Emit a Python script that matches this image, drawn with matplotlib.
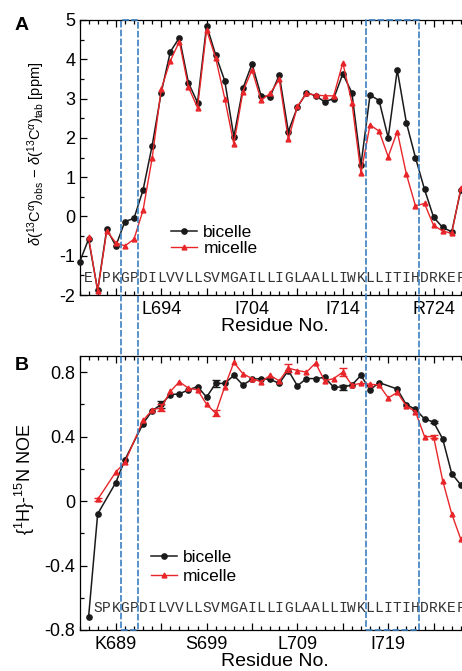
import numpy as np
import matplotlib
matplotlib.use("Agg")
import matplotlib.pyplot as plt
from matplotlib.patches import Rectangle
from matplotlib.ticker import MultipleLocator
import matplotlib.transforms as mtransforms

plt.rcParams["font.family"] = ["Liberation Sans", "DejaVu Sans"]
plt.rcParams["mathtext.fontset"] = "custom"
plt.rcParams["mathtext.rm"] = "Liberation Sans"
plt.rcParams["mathtext.it"] = "Liberation Sans:italic"
plt.rcParams["axes.unicode_minus"] = False

# ---- panel A: secondary C-alpha shifts ----
res_a_bic = np.arange(685, 728)
shift_bic = [-1.17, -0.58, -1.88, -0.32, -0.75, -0.13, -0.05, 0.67, 1.80, 3.15,
             4.19, 4.55, 3.40, 2.90, 4.86, 4.11, 3.45, 2.03, 3.26, 3.88,
             3.07, 3.05, 3.60, 2.16, 2.78, 3.15, 3.07, 2.92, 3.00, 3.63,
             3.15, 1.31, 3.09, 2.95, 2.00, 3.73, 2.39, 1.50, 0.69, -0.02,
             -0.28, -0.39, 0.68]
res_a_mic = np.arange(686, 728)
shift_mic = [-0.53, -1.90, -0.37, -0.67, -0.75, -0.58, 0.16, 1.48, 3.24,
             3.96, 4.45, 3.29, 2.77, 4.75, 4.03, 3.00, 1.84, 3.18, 3.73,
             2.96, 3.13, 3.49, 1.96, 2.80, 3.13, 3.09, 3.07, 3.07, 3.91,
             2.90, 1.10, 2.33, 2.17, 1.52, 2.16, 1.08, 0.27, 0.33, -0.23,
             -0.37, -0.43, 0.72]

# ---- panel B: heteronuclear NOE (prolines 688, 691 absent) ----
res_b_bic = [686, 687, 689, 690, 692, 693, 694, 695, 696, 697, 698, 699, 700,
             701, 702, 703, 704, 705, 706, 707, 708, 709, 710, 711, 712, 713,
             714, 715, 716, 717, 718, 720, 721, 722, 723, 724, 725, 726, 727]
noe_bic = [-0.72, -0.08, 0.115, 0.256, 0.48, 0.56, 0.60, 0.66, 0.665, 0.69,
           0.71, 0.645, 0.73, 0.73, 0.78, 0.72, 0.756, 0.76, 0.755, 0.73,
           0.81, 0.715, 0.76, 0.76, 0.767, 0.707, 0.707, 0.72, 0.78, 0.69,
           0.735, 0.695, 0.597, 0.57, 0.51, 0.49, 0.386, 0.17, 0.10]
res_b_mic = [687, 689, 690, 692, 693, 694, 695, 696, 697, 698, 699, 700, 701,
             702, 703, 704, 705, 706, 707, 708, 709, 710, 711, 712, 713, 714,
             715, 716, 717, 718, 719, 720, 721, 722, 723, 724, 725, 726, 727]
noe_mic = [0.01, 0.18, 0.24, 0.50, 0.565, 0.58, 0.68, 0.74, 0.70, 0.69, 0.60,
           0.545, 0.71, 0.86, 0.79, 0.76, 0.74, 0.78, 0.745, 0.825, 0.81,
           0.80, 0.856, 0.746, 0.76, 0.80, 0.72, 0.73, 0.725, 0.72, 0.64,
           0.674, 0.59, 0.555, 0.40, 0.40, 0.127, -0.08, -0.237]
err_res_bic = [694, 700, 714, 724]
err_bic = [0.02, 0.022, 0.015, 0.008]
err_res_mic = [687, 694, 700, 708, 714, 724]
err_mic = [0.01, 0.02, 0.019, 0.025, 0.023, 0.01]

seq_a = "E PKGPDILVVLLSVMGAILLIGLAALLIWKLLITIHDRKEF"   # starts at 686
seq_b = "SPKGPDILVVLLSVMGAILLIGLAALLIWKLLITIHDRKEF"    # starts at 687
ticks_a = [694, 704, 714, 724]
labels_a = ["L694", "I704", "I714", "R724"]
ticks_b = [689, 699, 709, 719]
labels_b = ["K689", "S699", "L709", "I719"]
boxes = [(689.55, 691.4), (716.6, 722.4)]

BLACK = "#1a1a1a"
RED = "#e8262a"
BLUE = "#3b7fc0"

W, H = 462, 671
fig = plt.figure(figsize=(W / 100, H / 100), dpi=100)
axA = fig.add_axes([79.5 / W, 1 - 295 / H, 390.4 / W, 275 / H])
axB = fig.add_axes([79.5 / W, 1 - 630 / H, 390.4 / W, 274 / H])

major5 = list(range(689, 729, 5))


def style(ax, ticks, labels):
    ax.set_xlim(685, 728)
    ax.set_xticks(major5)
    ax.set_xticklabels([labels[ticks.index(t)] if t in ticks else "" for t in major5])
    ax.xaxis.set_minor_locator(MultipleLocator(1))
    ax.tick_params(which="both", direction="in", top=True, right=False,
                   labelsize=13, width=0.9)
    ax.tick_params(which="major", length=5)
    ax.tick_params(which="minor", length=3)
    ax.tick_params(axis="x", pad=4)
    ax.tick_params(axis="y", pad=3)
    for s in ax.spines.values():
        s.set_linewidth(0.9)
    ax.spines["right"].set_visible(False)


# panel A
axA.plot(res_a_bic, shift_bic, "-o", color=BLACK, lw=1.1, ms=3.8,
         label="bicelle", clip_on=False, zorder=3)
axA.plot(res_a_mic, shift_mic, "-^", color=RED, lw=1.0, ms=3.5,
         label="micelle", clip_on=False, zorder=4)
style(axA, ticks_a, labels_a)
axA.set_ylim(-2, 5)
axA.yaxis.set_major_locator(MultipleLocator(1))
axA.yaxis.set_minor_locator(MultipleLocator(0.5))
axA.set_ylabel(r"$\delta(^{13}\mathrm{C}^{\alpha})_{\mathrm{obs}}\,-\,\delta(^{13}\mathrm{C}^{\alpha})_{\mathrm{tab}}$ [ppm]",
               fontsize=10.5)
axA.yaxis.set_label_coords(-0.083, 0.513)
axA.set_xlabel("Residue No.", fontsize=14, labelpad=0)
for i, ch in enumerate(seq_a):
    axA.text(686 + i, -1.57, ch, ha="center", va="center", fontsize=10.5,
             family="Liberation Mono", color="#333333")
axA.legend(loc="center left", bbox_to_anchor=(0.235, 0.197), frameon=False,
           fontsize=12.5, handlelength=1.5, handletextpad=0.35,
           labelspacing=0.05, borderpad=0, borderaxespad=0)

# panel B
axB.plot(res_b_bic, noe_bic, "-o", color=BLACK, lw=1.1, ms=3.8,
         label="bicelle", clip_on=False, zorder=3)
axB.plot(res_b_mic, noe_mic, "-^", color=RED, lw=1.0, ms=3.5,
         label="micelle", clip_on=False, zorder=4)
eb_y_bic = [noe_bic[res_b_bic.index(r)] for r in err_res_bic]
eb_y_mic = [noe_mic[res_b_mic.index(r)] for r in err_res_mic]
axB.errorbar(err_res_bic, eb_y_bic, yerr=err_bic, fmt="none", ecolor=BLACK,
             elinewidth=1.0, capsize=3, capthick=1.0, zorder=3)
axB.errorbar(err_res_mic, eb_y_mic, yerr=err_mic, fmt="none", ecolor=RED,
             elinewidth=1.0, capsize=3, capthick=1.0, zorder=4)
style(axB, ticks_b, labels_b)
axB.set_ylim(-0.8, 0.9)
axB.set_yticks([-0.8, -0.4, 0, 0.4, 0.8])
axB.set_yticklabels(["-0.8", "-0.4", "0", "0.4", "0.8"])
axB.yaxis.set_minor_locator(MultipleLocator(0.2))
axB.set_ylabel(r"$\{^{1}$H$\}$-$^{15}$N NOE", fontsize=13)
axB.yaxis.set_label_coords(-0.11, 0.55)
axB.set_xlabel("Residue No.", fontsize=14, labelpad=0)
for i, ch in enumerate(seq_b):
    axB.text(687 + i, -0.663, ch, ha="center", va="center", fontsize=10.5,
             family="Liberation Mono", color="#333333")
axB.legend(loc="center left", bbox_to_anchor=(0.183, 0.23), frameon=False,
           fontsize=12.5, handlelength=1.5, handletextpad=0.35,
           labelspacing=0.25, borderpad=0, borderaxespad=0)

# panel letters
fig.text(15 / W, 1 - 25 / H, "A", fontsize=14, fontweight="bold", va="center")
fig.text(15 / W, 1 - 366 / H, "B", fontsize=14, fontweight="bold", va="center")

# dashed boxes spanning both panels
trans = mtransforms.blended_transform_factory(axA.transData, fig.transFigure)
y0 = 1 - 630 / H
y1 = 1 - 20 / H
for x0, x1 in boxes:
    rect = Rectangle((x0, y0), x1 - x0, y1 - y0, transform=trans, fill=False,
                     edgecolor=BLUE, lw=1.2, linestyle=(0, (4, 1.3)), zorder=5)
    fig.add_artist(rect)

fig.savefig("out.png", dpi=100)
